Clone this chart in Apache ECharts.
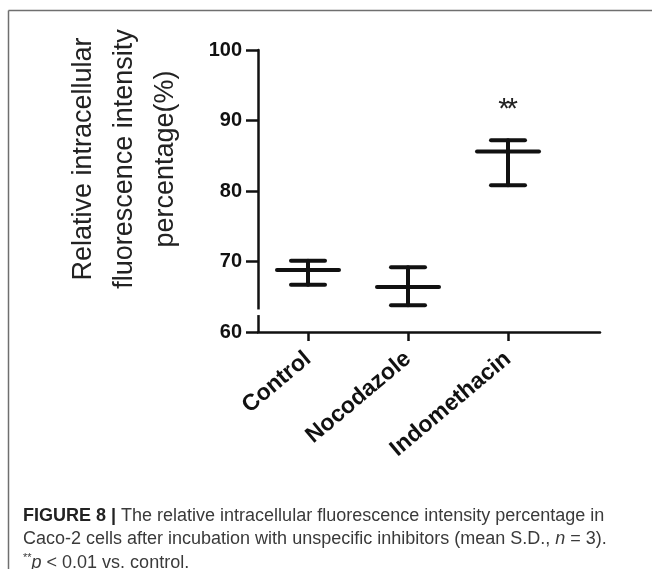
<!DOCTYPE html>
<html>
<head>
<meta charset="utf-8">
<script src="https://cdn.jsdelivr.net/npm/echarts@6/dist/echarts.min.js"></script>
<style>
html,body{margin:0;padding:0;background:#fff;}
#chart{width:652px;height:569px;}
</style>
</head>
<body>
<div id="chart"></div>
<script>
const categories = ['Control', 'Nocodazole', 'Indomethacin'];
const categoryPos = [0.5, 1.5, 2.5];
const means = [68.8, 66.4, 85.6];
const lowerSD = [66.7, 63.8, 80.8];
const upperSD = [70.1, 69.2, 87.2];
const yTicks = [60, 70, 80, 90, 100];
const significance = [{ cat: 2, value: 92.3, text: '**' }];
const axisBreak = [62.4, 63.2];

const chart = echarts.init(document.getElementById('chart'));
const ink = '#111';

const barData = categories.map((c, i) => [categoryPos[i], means[i], lowerSD[i], upperSD[i]]);
const starData = significance.map(s => [categoryPos[s.cat], s.value]);

const option = {
  animation: false,
  backgroundColor: '#fff',
  grid: { left: 258, right: 52, top: 50, bottom: 237, containLabel: false },
  xAxis: {
    type: 'value', min: 0, max: 3.42,
    splitLine: { show: false },
    axisLine: { show: true, lineStyle: { color: ink, width: 2.5 } },
    axisTick: { show: true, customValues: categoryPos, length: 9, inside: false, lineStyle: { color: ink, width: 2.5 } },
    axisLabel: {
      customValues: categoryPos,
      formatter: v => categories[categoryPos.indexOf(v)] || '',
      rotate: 40, margin: 24,
      fontFamily: 'Liberation Sans, Arial, sans-serif', fontWeight: 'bold', fontSize: 23, color: ink
    }
  },
  yAxis: {
    type: 'value', min: 60, max: 100, interval: 10,
    splitLine: { show: false },
    axisLine: { show: true, lineStyle: { color: ink, width: 2.5 } },
    axisTick: { show: true, length: 12, lineStyle: { color: ink, width: 2.5 } },
    axisLabel: {
      margin: 16,
      fontFamily: 'Liberation Sans, Arial, sans-serif', fontWeight: 'bold', fontSize: 20, color: ink
    }
  },
  series: [
    {
      type: 'custom',
      data: barData,
      renderItem: function (params, api) {
        const x = api.value(0);
        const pm = api.coord([x, api.value(1)]);
        const pl = api.coord([x, api.value(2)]);
        const ph = api.coord([x, api.value(3)]);
        const st = { stroke: ink, lineWidth: 4, lineCap: 'round' };
        return {
          type: 'group',
          children: [
            { type: 'line', shape: { x1: pl[0], y1: pl[1], x2: ph[0], y2: ph[1] }, style: st },
            { type: 'line', shape: { x1: pl[0] - 17, y1: pl[1], x2: pl[0] + 17, y2: pl[1] }, style: st },
            { type: 'line', shape: { x1: ph[0] - 17, y1: ph[1], x2: ph[0] + 17, y2: ph[1] }, style: st },
            { type: 'line', shape: { x1: pm[0] - 31, y1: pm[1], x2: pm[0] + 31, y2: pm[1] }, style: st }
          ]
        };
      }
    },
    {
      type: 'custom',
      data: starData,
      renderItem: function (params, api) {
        const p = api.coord([api.value(0), api.value(1)]);
        const ts = { fill: '#222', fontSize: 30, fontFamily: 'Liberation Sans, Arial, sans-serif', align: 'center', verticalAlign: 'middle' };
        return {
          type: 'group',
          children: [
            { type: 'text', x: p[0] - 4, y: p[1] + 5, style: Object.assign({ text: '*' }, ts) },
            { type: 'text', x: p[0] + 4, y: p[1] + 5, style: Object.assign({ text: '*' }, ts) }
          ]
        };
      }
    }
  ]
};
chart.setOption(option);

// axis break gap + title + frame + caption
const gTop = chart.convertToPixel({ yAxisIndex: 0 }, axisBreak[1]);
const gBot = chart.convertToPixel({ yAxisIndex: 0 }, axisBreak[0]);
const axX = chart.convertToPixel({ xAxisIndex: 0 }, 0);
const capFont = 'Liberation Sans, Arial, sans-serif';
const capSize = 18;
const capLH = 23.5;
chart.setOption({
  graphic: [
    { type: 'rect', shape: { x: axX - 4, y: gTop, width: 8, height: gBot - gTop }, style: { fill: '#fff' }, z: 100 },
    { type: 'line', shape: { x1: 8.5, y1: 10.5, x2: 8.5, y2: 569 }, style: { stroke: '#6f6f6f', lineWidth: 1.5 } },
    { type: 'line', shape: { x1: 8.5, y1: 10.5, x2: 652, y2: 10.5 }, style: { stroke: '#6f6f6f', lineWidth: 1.5 } },
    {
      type: 'text', x: 125, y: 159, rotation: Math.PI / 2,
      style: {
        text: 'Relative intracellular\nfluorescence intensity\npercentage(%)',
        fontFamily: 'Liberation Sans, Arial, sans-serif', fontSize: 27, lineHeight: 41,
        fill: '#222', align: 'center', verticalAlign: 'middle'
      }
    },
    {
      type: 'text', x: 23, y: 504,
      style: {
        text: '{b|FIGURE 8 |} The relative intracellular fluorescence intensity percentage in\n' +
              'Caco-2 cells after incubation with unspecific inhibitors (mean S.D., {i|n} = 3).\n' +
              '{s|**}{i|p} < 0.01 vs. control.',
        fontFamily: capFont, fontSize: capSize, lineHeight: capLH, fill: '#3a3a3a',
        rich: {
          b: { fontFamily: capFont, fontSize: capSize, fontWeight: 'bold', fill: '#222', lineHeight: capLH },
          i: { fontFamily: capFont, fontSize: capSize, fontStyle: 'italic', fill: '#3a3a3a', lineHeight: capLH },
          s: { fontFamily: capFont, fontSize: 11, fill: '#3a3a3a', lineHeight: capLH, padding: [0, 0, 9, 0] }
        }
      }
    }
  ]
});
</script>
</body>
</html>
